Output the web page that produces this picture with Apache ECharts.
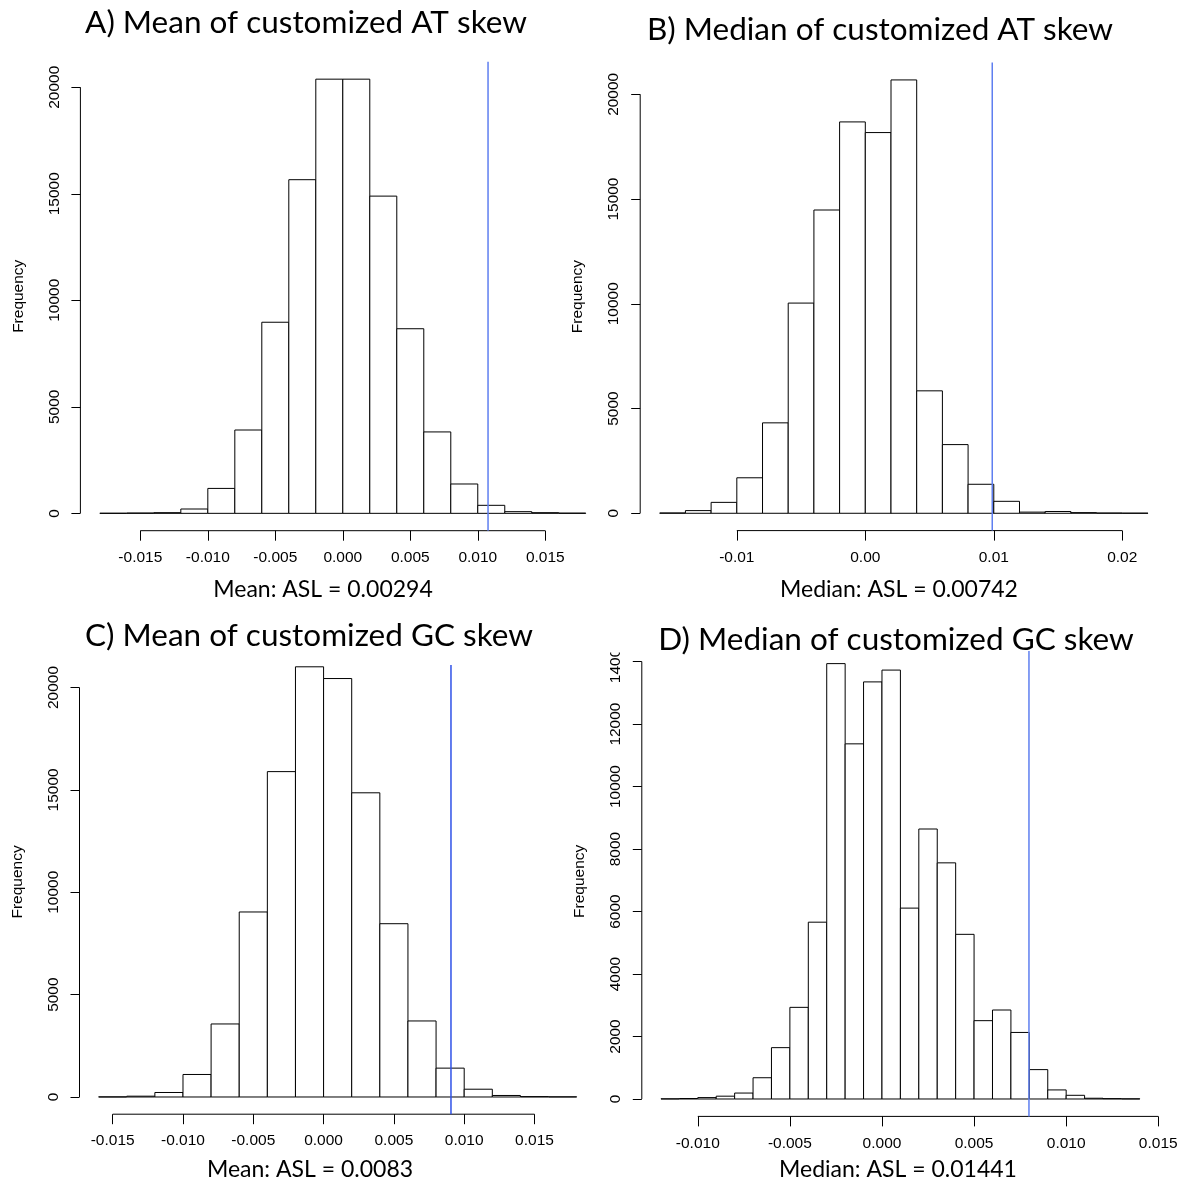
<!DOCTYPE html>
<html>
<head>
<meta charset="utf-8">
<title>Customized skew histograms</title>
<script src="https://cdn.jsdelivr.net/npm/echarts@6/dist/echarts.min.js"></script>
<style>
  html, body { margin: 0; padding: 0; background: #fff; }
  #chart { width: 1185px; height: 1187px; }
</style>
</head>
<body>
<div id="chart"></div>
<script>
// histogram breaks and counts
const breaksA = [-0.018, -0.016, -0.014, -0.012, -0.010, -0.008, -0.006, -0.004, -0.002, 0,
  0.002, 0.004, 0.006, 0.008, 0.010, 0.012, 0.014, 0.016, 0.018]
const countsA = [5, 15, 31, 203, 1170, 3911, 8970, 15661, 20380, 20380, 14890, 8665, 3821, 1377, 376, 78, 31, 10]

const breaksB = [-0.016, -0.014, -0.012, -0.010, -0.008, -0.006, -0.004, -0.002, 0, 0.002,
  0.004, 0.006, 0.008, 0.010, 0.012, 0.014, 0.016, 0.018, 0.020, 0.022]
const countsB = [15, 127, 520, 1694, 4316, 10034, 14477, 18683, 18174, 20687, 5845, 3278, 1384, 570, 55, 85, 30, 12, 6]

const breaksC = [-0.016, -0.014, -0.012, -0.010, -0.008, -0.006, -0.004, -0.002, 0,
  0.002, 0.004, 0.006, 0.008, 0.010, 0.012, 0.014, 0.016, 0.018]
const countsC = [5, 40, 220, 1100, 3567, 9037, 15893, 21012, 20439, 14858, 8464, 3714, 1410, 380, 74, 18, 8]

const breaksD = [-0.012, -0.011, -0.010, -0.009, -0.008, -0.007, -0.006, -0.005, -0.004, -0.003,
  -0.002, -0.001, 0, 0.001, 0.002, 0.003, 0.004, 0.005, 0.006, 0.007, 0.008, 0.009, 0.010,
  0.011, 0.012, 0.013, 0.014]
const countsD = [5, 15, 45, 90, 190, 680, 1643, 2933, 5659, 13935, 11367, 13350, 13728, 6109,
  8641, 7558, 5270, 2507, 2848, 2130, 940, 290, 118, 24, 12, 5]

// axis ticks
const xTicksA = [-0.015, -0.010, -0.005, 0, 0.005, 0.010, 0.015]
const xTicksB = [-0.01, 0, 0.01, 0.02]
const xTicksC = [-0.015, -0.010, -0.005, 0, 0.005, 0.010, 0.015]
const xTicksD = [-0.010, -0.005, 0, 0.005, 0.010, 0.015]
const yTicksA = [0, 5000, 10000, 15000, 20000]
const yTicksB = [0, 5000, 10000, 15000, 20000]
const yTicksC = [0, 5000, 10000, 15000, 20000]
const yTicksD = [0, 2000, 4000, 6000, 8000, 10000, 12000, 14000]

// observed statistic (blue line)
const observedA = 0.01076
const observedB = 0.00988
const observedC = 0.00906
const observedD = 0.00798

const titles = [
  'A) Mean of customized AT skew',
  'B) Median of customized AT skew',
  'C) Mean of customized GC skew',
  'D) Median of customized GC skew'
]
const subtitles = [
  'Mean: ASL = 0.00294',
  'Median: ASL = 0.00742',
  'Mean: ASL = 0.0083',
  'Median: ASL = 0.01441'
]

// layout of each panel: plot box in pixels, title spots, top of the (cropped) blue line
const panels = [
  { breaks: breaksA, counts: countsA, xTicks: xTicksA, yTicks: yTicksA, digits: 3, observed: observedA,
    box: [80.4, 61.8, 605.2, 530.7], titleAt: [306, 23], subAt: [323, 590], cut: null, blue: '#5f7ff0' },
  { breaks: breaksB, counts: countsB, xTicks: xTicksB, yTicks: yTicksB, digits: 2, observed: observedB,
    box: [640.2, 62.6, 1167.5, 530.6], titleAt: [880, 30], subAt: [899, 590], cut: null, blue: '#5f7ff0' },
  { breaks: breaksC, counts: countsC, xTicks: xTicksC, yTicks: yTicksC, digits: 3, observed: observedC,
    box: [79.5, 649.6, 595.8, 1114.2], titleAt: [309, 635.5], subAt: [310, 1170], cut: 21104, blue: '#2f52e8' },
  { breaks: breaksD, counts: countsD, xTicks: xTicksD, yTicks: yTicksD, digits: 3, observed: observedD,
    box: [641.8, 646.2, 1159.0, 1116.4], titleAt: [896, 640], subAt: [898, 1170], cut: 14339, blue: '#5f7ff0' }
]

// R style ranges: 4% padding around the data
panels.forEach(p => {
  const lo = p.breaks[0]
  const hi = p.breaks[p.breaks.length - 1]
  const top = Math.max(...p.counts)
  p.xMin = lo - 0.04 * (hi - lo)
  p.xMax = hi + 0.04 * (hi - lo)
  p.yMin = -0.04 * top
  p.yMax = 1.04 * top
})

const tickFont = { color: '#000', fontFamily: 'Liberation Sans', fontSize: 15.5 }

const renderBin = (params, api) => {
  const lo = api.coord([api.value(0), 0])
  const hi = api.coord([api.value(1), api.value(2)])
  return {
    type: 'rect',
    shape: { x: lo[0], y: hi[1], width: hi[0] - lo[0], height: lo[1] - hi[1] },
    style: { fill: '#fff', stroke: '#000', lineWidth: 1 }
  }
}

const straight = (i, data, color, width, z) => ({
  type: 'line',
  xAxisIndex: i,
  yAxisIndex: i,
  data: data,
  symbol: 'none',
  showSymbol: false,
  silent: true,
  clip: false,
  z: z,
  lineStyle: { color: color, width: width }
})

const series = []
panels.forEach((p, i) => {
  series.push({
    type: 'custom',
    xAxisIndex: i,
    yAxisIndex: i,
    renderItem: renderBin,
    encode: { x: [0, 1], y: 2 },
    silent: true,
    data: p.counts.map((c, k) => [p.breaks[k], p.breaks[k + 1], c])
  })
  // y axis line from 0 to the last tick
  series.push(straight(i, [[p.xMin, 0], [p.xMin, p.yTicks[p.yTicks.length - 1]]], '#000', 1, 3))
  // x axis line from first to last tick
  series.push(straight(i, [[p.xTicks[0], p.yMin], [p.xTicks[p.xTicks.length - 1], p.yMin]], '#000', 1, 3))
  // observed value
  series.push(straight(i, [[p.observed, p.yMin], [p.observed, p.cut ?? p.yMax]], p.blue, 1.5, 4))
})

const graphics = [
  // the top of panel D was cropped through its 14000 label
  { type: 'rect', shape: { x: 595, y: 615, width: 32, height: 37.5 }, style: { fill: '#fff' }, z: 100 }
]
panels.forEach((p, i) => {
  graphics.push({
    type: 'text', x: p.titleAt[0], y: p.titleAt[1], z: 101,
    style: { text: titles[i], fill: '#000', fontFamily: 'Lato', fontSize: 31.5,
      textAlign: 'center', textVerticalAlign: 'middle' }
  })
  graphics.push({
    type: 'text', x: p.subAt[0], y: p.subAt[1], z: 101,
    style: { text: subtitles[i], fill: '#000', fontFamily: 'Lato', fontSize: 23,
      textAlign: 'center', textVerticalAlign: 'middle' }
  })
})

const chart = echarts.init(document.getElementById('chart'))

chart.setOption({
  animation: false,
  backgroundColor: '#fff',
  grid: panels.map(p => ({
    left: p.box[0],
    top: p.box[1],
    width: p.box[2] - p.box[0],
    height: p.box[3] - p.box[1],
    outerBoundsMode: 'none',
    containLabel: false
  })),
  xAxis: panels.map((p, i) => ({
    gridIndex: i,
    type: 'value',
    min: p.xMin,
    max: p.xMax,
    axisLine: { show: false, onZero: false },
    splitLine: { show: false },
    axisTick: { show: true, length: 10, customValues: p.xTicks, lineStyle: { color: '#000', width: 1 } },
    axisLabel: { ...tickFont, customValues: p.xTicks, margin: 19, formatter: v => v.toFixed(p.digits) }
  })),
  yAxis: panels.map((p, i) => ({
    gridIndex: i,
    type: 'value',
    min: p.yMin,
    max: p.yMax,
    axisLine: { show: false, onZero: false },
    splitLine: { show: false },
    axisTick: { show: true, length: 9, customValues: p.yTicks, lineStyle: { color: '#000', width: 1 } },
    axisLabel: { ...tickFont, customValues: p.yTicks, rotate: 90, margin: 18, formatter: v => String(v) },
    name: 'Frequency',
    nameLocation: 'middle',
    nameRotate: 90,
    nameGap: 54,
    nameTextStyle: { ...tickFont }
  })),
  series: series,
  graphic: graphics
})
</script>
</body>
</html>
